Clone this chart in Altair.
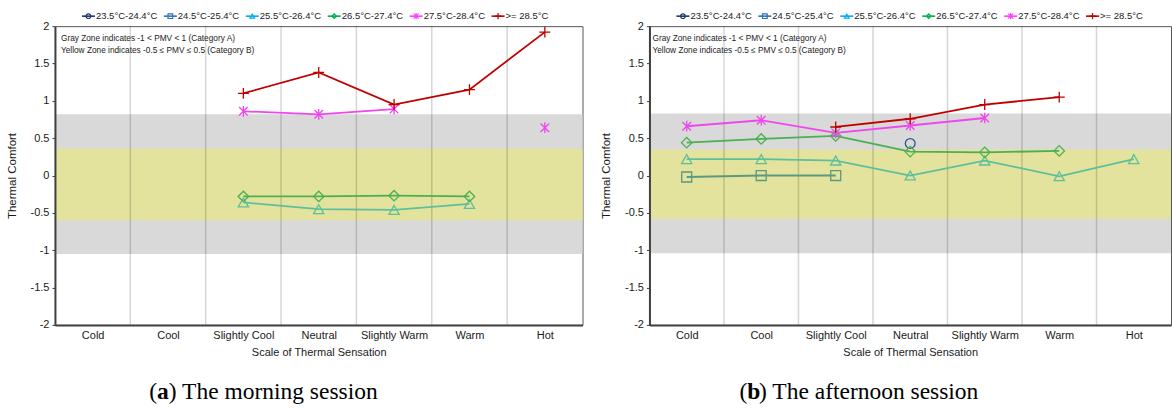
import json
import altair as alt
import pandas as pd

# ---------------- data ----------------
categories = ["Cold", "Cool", "Slightly Cool", "Neutral", "Slightly Warm", "Warm", "Hot"]
series_names = ["23.5°C-24.4°C", "24.5°C-25.4°C", "25.5°C-26.4°C",
                "26.5°C-27.4°C", "27.5°C-28.4°C", ">= 28.5°C"]

# morning session (None = no data)
am_235 = [None, None, None, None, None, None, None]
am_245 = [None, None, None, None, None, None, None]
am_255 = [None, None, -0.36, -0.45, -0.46, -0.38, None]
am_265 = [None, None, -0.28, -0.28, -0.27, -0.28, None]
am_275 = [None, None, 0.86, 0.82, 0.89, None, 0.64]
am_285 = [None, None, 1.10, 1.38, 0.95, 1.15, 1.92]

# afternoon session
pm_235 = [None, None, None, 0.43, None, None, None]
pm_245 = [-0.02, 0.00, 0.00, None, None, None, None]
pm_255 = [0.22, 0.22, 0.20, 0.00, 0.20, -0.01, 0.22]
pm_265 = [0.44, 0.49, 0.53, 0.32, 0.31, 0.33, None]
pm_275 = [0.66, 0.74, 0.57, 0.67, 0.77, None, None]
pm_285 = [None, None, 0.65, 0.76, 0.95, 1.05, None]

# comfort zones [low, high]
am_gray = [-1.05, 0.82]
am_yellow = [-0.60, 0.36]
pm_gray = [-1.04, 0.83]
pm_yellow = [-0.58, 0.35]

y_ticks = [-2, -1.5, -1, -0.5, 0, 0.5, 1, 1.5, 2]

note_lines = ["Gray Zone indicates -1 < PMV < 1 (Category A)",
              "Yellow Zone indicates -0.5 \u2264 PMV \u2264 0.5 (Category B)"]

# ---------------- styles ----------------
plot_colors = ["#34508f", "#5b9a80", "#5dbf9c", "#4caf52", "#f046f0", "#c00000"]
legend_colors = ["#203864", "#2e75b6", "#00b0f0", "#00b050", "#ff40ff", "#c00000"]
asterisk = "M-0.8,-0.8L0.8,0.8M-0.8,0.8L0.8,-0.8M0,-1L0,1"
plus = "M-1,0L1,0M0,-1L0,1"
shapes = ["circle", "square", "triangle-up", "diamond", asterisk, plus]
sizes = [95, 120, 130, 130, 170, 170]
legend_sizes = [22, 22, 22, 22, 40, 40]

FONT = "Liberation Sans"
TXT = "#1a1a1a"
PLOT_H = 299
X_DOMAIN = [-0.5, len(categories) - 0.5]


def x_enc(field):
    return alt.X(
        f"{field}:Q",
        scale=alt.Scale(domain=X_DOMAIN, nice=False, zero=False),
        title="Scale of Thermal Sensation",
        axis=alt.Axis(values=list(range(len(categories))),
                      labelExpr=json.dumps(categories).replace('"', "'") + "[datum.value]",
                      grid=False, ticks=False, domainColor="#404040", domainWidth=2,
                      labelFontSize=11, labelColor=TXT, labelPadding=5, labelAngle=0,
                      labelOverlap=False, labelFlush=False,
                      titleFontSize=11, titleFontWeight="normal", titleColor=TXT,
                      titlePadding=6, zindex=1),
    )


def y_enc(field):
    return alt.Y(
        f"{field}:Q",
        scale=alt.Scale(domain=[-2, 2], nice=False, zero=False),
        title="Thermal Comfort",
        axis=alt.Axis(values=y_ticks, labelExpr="'' + datum.value", grid=False,
                      ticks=True, tickSize=3, tickColor="#404040", domainColor="#404040",
                      domainWidth=2, labelFontSize=11, labelColor=TXT, labelPadding=3,
                      labelOverlap=False, labelFlush=False,
                      titleFontSize=11.5, titleFontWeight="normal", titleColor=TXT,
                      titlePadding=13, zindex=1),
    )


def text_at(txt, x, y, **kw):
    return alt.Chart(pd.DataFrame({"t": [txt]})).mark_text(
        align="left", baseline="middle", **kw).encode(
        x=alt.value(x), y=alt.value(y), text="t:N")


def panel(values, gray, yellow, width, note_x, letter, rest, cap_center):
    rows = []
    for s, vals in zip(series_names, values):
        seg, gap = 0, True
        for i, v in enumerate(vals):
            if v is None:
                gap = True
                continue
            if gap:
                seg += 1
            gap = False
            rows.append(dict(series=s, idx=i, val=v, seg=f"{s}#{seg}"))
    df = pd.DataFrame(rows)

    bands = pd.DataFrame({"lo": [gray[0], yellow[0]], "hi": [gray[1], yellow[1]],
                          "fc": ["#d9d9d9", "#e3e39d"]})
    band_layer = alt.Chart(bands).mark_rect().encode(
        x=alt.value(0), x2=alt.value(width),
        y=y_enc("hi"), y2="lo:Q",
        fill=alt.Fill("fc:N", scale=None))

    grid = pd.DataFrame({"b": [i + 0.5 for i in range(len(categories) - 1)]})
    grid_layer = alt.Chart(grid).mark_rule(color="black", opacity=0.16, strokeWidth=1.5).encode(
        x=x_enc("b"))

    color = alt.Color("series:N", scale=alt.Scale(domain=series_names, range=plot_colors),
                      legend=None)
    line_layer = alt.Chart(df).mark_line(strokeWidth=1.8).encode(
        x=x_enc("idx"), y=y_enc("val"), color=color,
        detail="seg:N", order="idx:Q")
    point_layer = alt.Chart(df).mark_point(filled=False, strokeWidth=1.3, opacity=1).encode(
        x=x_enc("idx"), y=y_enc("val"), color=color,
        shape=alt.Shape("series:N", scale=alt.Scale(domain=series_names, range=shapes),
                        legend=None),
        size=alt.Size("series:N", scale=alt.Scale(domain=series_names, range=sizes),
                      legend=None))

    # manual legend above the plot (positions converted to x-data units)
    step_px = width / (X_DOMAIN[1] - X_DOMAIN[0])
    leg = pd.DataFrame({"series": series_names, "i": list(range(len(series_names))),
                        "lc": legend_colors, "ls": shapes, "lz": legend_sizes})
    x0, dx, ll = 27 / step_px + X_DOMAIN[0], 82 / step_px, 13 / step_px
    leg["lx"] = x0 + leg["i"] * dx
    leg["lx2"] = leg["lx"] + ll
    leg["mx"] = leg["lx"] + ll / 2
    leg["tx"] = leg["lx2"] + 1 / step_px
    leg_base = alt.Chart(leg)
    leg_rule = leg_base.mark_rule(strokeWidth=1.6).encode(
        x=x_enc("lx"), x2="lx2:Q", y=alt.value(-10),
        stroke=alt.Stroke("lc:N", scale=None))
    leg_pt = leg_base.mark_point(filled=False, strokeWidth=1.2, opacity=1).encode(
        x=x_enc("mx"), y=alt.value(-10),
        stroke=alt.Stroke("lc:N", scale=None),
        shape=alt.Shape("ls:N", scale=None),
        size=alt.Size("lz:Q", scale=None))
    leg_txt = leg_base.mark_text(align="left", baseline="middle", fontSize=9.5,
                                 color="#222", font=FONT).encode(
        x=x_enc("tx"), y=alt.value(-10), text="series:N")

    note1 = text_at(note_lines[0], note_x, 13, fontSize=8.3, color="#222", font=FONT)
    note2 = text_at(note_lines[1], note_x, 25, fontSize=8.3, color="#222", font=FONT)

    cap_size = 23.5
    cap_y = 366
    cap_w = 0.444 * cap_size * (len(rest) + 2) * 0.98
    cx0 = cap_center - cap_w / 2
    serif = "Liberation Serif"
    cap1 = text_at("(", cx0, cap_y, fontSize=cap_size, font=serif, color="#000")
    cap2 = text_at(letter, cx0 + 0.333 * cap_size, cap_y, fontSize=cap_size, font=serif,
                   color="#000", fontWeight="bold")
    cap3 = text_at(rest, cx0 + 0.333 * cap_size + 0.5 * cap_size, cap_y, fontSize=cap_size,
                   font=serif, color="#000")

    return alt.layer(band_layer, grid_layer, line_layer, point_layer,
                     leg_rule, leg_pt, leg_txt, note1, note2, cap1, cap2, cap3
                     ).properties(width=width, height=PLOT_H)


left = panel([am_235, am_245, am_255, am_265, am_275, am_285], am_gray, am_yellow,
             528, 6, "a", ") The morning session", 212)
right = panel([pm_235, pm_245, pm_255, pm_265, pm_275, pm_285], pm_gray, pm_yellow,
              522, 3, "b", ") The afternoon session", 218)

chart = alt.hconcat(left, right, spacing=67, bounds="flush").properties(
    padding={"left": 5, "top": 9, "right": 0, "bottom": 0}
).configure(font=FONT).configure_view(stroke="#555555", strokeWidth=1)

chart.save("out.html", embed_options={"renderer": "svg", "actions": False})
